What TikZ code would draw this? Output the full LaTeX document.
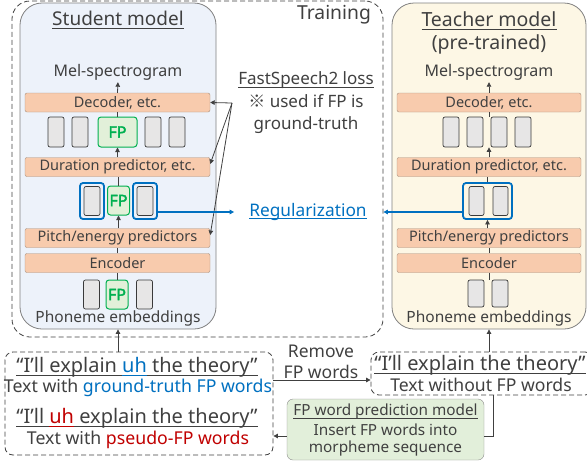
\documentclass[tikz,border=0pt]{standalone}
\usepackage{fontspec}
\setmainfont{Noto Sans}
\newfontfamily\cjk{Noto Sans CJK JP}
\newfontfamily\fpfont{Noto Sans}[FakeBold=2.5]
\usetikzlibrary{arrows.meta}
\definecolor{txt}{HTML}{404040}
\definecolor{salmon}{HTML}{F8CBAD}
\definecolor{salmonline}{HTML}{A8907E}
\definecolor{tokfill}{HTML}{E7E6E6}
\definecolor{tokline}{HTML}{3A3A3A}
\definecolor{fpgreen}{HTML}{00B050}
\definecolor{fpfill}{HTML}{E2F0D9}
\definecolor{regblue}{HTML}{0070C0}
\definecolor{fpred}{HTML}{C00000}
\definecolor{stfill}{HTML}{EDF2FA}
\definecolor{tefill}{HTML}{FDF7E5}
\definecolor{pmfill}{HTML}{E2EFDA}
\newcommand{\fs}[1]{\fontsize{#1}{#1}\selectfont}
\newcommand{\ulx}[1]{\setbox0\hbox{#1}\rlap{\rule[-0.17em]{\wd0}{0.055em}}\box0}

\tikzset{
  modbox/.style={draw=black!50, line width=0.8pt, rounded corners=22pt, inner sep=0pt},
  layer/.style={draw=salmonline, fill=salmon, rounded corners=2pt, minimum width=185pt, minimum height=19pt, inner sep=0pt, text=txt, font=\fs{14.5}},
  tok/.style={draw=tokline, fill=tokfill, rounded corners=2pt, line width=0.7pt, minimum width=16pt, minimum height=30pt, inner sep=0pt},
  fptok/.style={draw=fpgreen, fill=fpfill, rounded corners=3pt, line width=1pt, minimum width=22pt, minimum height=30pt, inner sep=0pt, text=fpgreen, font=\fpfont\fs{16}},
  regbox/.style={draw=regblue, rounded corners=3pt, line width=1.8pt, minimum height=36pt, inner sep=0pt},
  lbl/.style={text=txt, font=\fs{15}, inner sep=0pt},
  arr/.style={-{Triangle[length=4.5pt,width=4.5pt]}, draw=txt, line width=0.8pt},
  link/.style={draw=txt, line width=0.8pt},
  dashbox/.style={draw=txt, dash pattern=on 5pt off 3pt, line width=0.8pt, rounded corners=8pt, inner sep=0pt}
}

\begin{document}
\begin{tikzpicture}[x=1pt, y=-1pt]
\useasboundingbox (0,0) rectangle (587,464);

%%%%% TRAINING %%%%%
\node[dashbox, rounded corners=18pt, minimum width=371pt, minimum height=336pt] (train) at (197.5,169) {};
\node[lbl, font=\fs{19.3}] (trainlbl) at (334,15) {Training};

%%%%% STUDENT %%%%%
\node[modbox, fill=stfill, minimum width=196pt, minimum height=326pt] (student) at (118,166) {};
\node[lbl, font=\fs{19}] (stitle) at (118,20) {\ulx{Student model}};
\node[lbl, font=\fs{16}] (smel) at (118,72) {Mel-spectrogram};
\node[layer] (sdec) at (117.5,102.5) {Decoder, etc.};
\node[tok] (sa1) at (56,132) {};
\node[tok] (sa2) at (80,132) {};
\node[fptok, minimum width=39pt] (sa3) at (117.5,132) {FP};
\node[tok] (sa4) at (153,132) {};
\node[tok] (sa5) at (177,132) {};
\node[layer] (sdur) at (117.5,167) {Duration predictor, etc.};
\node[regbox, minimum width=24pt] (sb1) at (92,201) {};
\node[tok, minimum height=29pt] (sb1in) at (sb1) {};
\node[fptok, minimum height=29pt] (sb2) at (118.5,200.5) {FP};
\node[regbox, minimum width=24pt] (sb3) at (145,201) {};
\node[tok, minimum height=29pt] (sb3in) at (sb3) {};
\node[layer] (spitch) at (117.5,238) {Pitch/energy predictors};
\node[layer] (senc) at (117.5,263) {Encoder};
\node[tok, minimum height=29pt] (sc1) at (91.5,294.5) {};
\node[fptok, minimum height=29pt] (sc2) at (117,294.5) {FP};
\node[tok, minimum height=29pt] (sc3) at (144.5,294.5) {};
\node[lbl, font=\fs{15.5}] (sphon) at (118,318) {Phoneme embeddings};

\draw[arr, shorten >=2pt] (sdec.north) -- (smel.south);
\draw[link] (sa3.north) -- (sdec.south);
\draw[arr] (sdur.north) -- (sa3.south);
\draw[link] (sb2.north) -- (sb2.north |- sdur.south);
\draw[arr] (spitch.north -| sb2.south) -- (sb2.south);
\draw[link] (senc.north) -- (spitch.south);
\draw[link] (sc2.north) -- (sc2.north |- senc.south);

%%%%% TEACHER %%%%%
\node[modbox, fill=tefill, minimum width=194pt, minimum height=326pt] (teacher) at (489,166) {};
\node[lbl, font=\fs{19.5}] (ttitle) at (489,21) {\ulx{Teacher model}};
\node[lbl, font=\fs{19.5}] (tpre) at (489,44) {(pre-trained)};
\node[lbl, font=\fs{16}] (tmel) at (489,72) {Mel-spectrogram};
\node[layer, minimum width=184pt] (tdec) at (489,102.5) {Decoder, etc.};
\node[tok] (ta1) at (451,132) {};
\node[tok] (ta2) at (475,132) {};
\node[tok] (ta3) at (499,132) {};
\node[tok] (ta4) at (523,132) {};
\node[layer, minimum width=184pt] (tdur) at (489,167) {Duration predictor, etc.};
\node[regbox, minimum width=49pt] (tb) at (487.5,201) {};
\node[tok, minimum height=29pt, minimum width=15pt] (tb1) at (476.5,201) {};
\node[tok, minimum height=29pt, minimum width=15pt] (tb2) at (500.5,201) {};
\node[layer, minimum width=184pt] (tpitch) at (489,238) {Pitch/energy predictors};
\node[layer, minimum width=184pt] (tenc) at (489,263) {Encoder};
\node[tok, minimum height=27pt] (tc1) at (476,293.5) {};
\node[tok, minimum height=27pt] (tc2) at (500,293.5) {};
\node[lbl, font=\fs{15.5}] (tphon) at (489,318) {Phoneme embeddings};

\draw[arr, shorten >=2pt] (tdec.north) -- (tmel.south);
\draw[link] (tdec.south) -- (tdec.south |- ta2.north);
\draw[arr] (tdur.north) -- (tdur.north |- ta2.south);
\draw[link] (tb.north) -- (tb.north |- tdur.south);
\draw[arr] (tpitch.north -| tb.south) -- (tb.south);
\draw[link] (tenc.north) -- (tpitch.south);
\draw[link] (tenc.south) -- (tenc.south |- tc1.north);

%%%%% LOSSES %%%%%
\node[lbl, align=center, font=\fontsize{17}{22.5}\selectfont] (loss) at (306,103) {\ulx{FastSpeech2 loss}\\{\cjk ※} used if FP is\\ground-truth};
\coordinate (fork) at (232,103);
\draw[arr] (fork) -- (sdec.east);
\draw[arr] (fork) -- ([yshift=3pt]sdur.east);
\draw[arr] (fork) -- ([yshift=3pt]spitch.east);

\node[lbl, text=regblue, font=\fs{17.3}] (reg) at (308,212) {\ulx{Regularization}};
\draw[arr, draw=regblue, line width=1.2pt, shorten >=15pt] (sb3.east |- reg) -- (reg.west);
\draw[arr, draw=regblue, line width=1.2pt] (tb.west |- reg) -- (train.east |- reg);

%%%%% TEXTS %%%%%
\node[dashbox, minimum width=268pt, minimum height=103pt] (gtbox) at (139,403.5) {};
\node[lbl, font=\fs{20}] (q1) at (137,367) {\ulx{“I’ll explain }\textcolor{regblue}{\ulx{uh}}\ulx{ the theory”}};
\node[lbl, font=\fs{17.7}] (d1) at (138,388) {Text with \textcolor{regblue}{ground-truth FP words}};
\node[lbl, font=\fs{20}] (q2) at (137,418) {\ulx{“I’ll }\textcolor{fpred}{\ulx{uh}}\ulx{ explain the theory”}};
\node[lbl, font=\fs{17.7}] (d2) at (138,440) {Text with \textcolor{fpred}{pseudo-FP words}};

\node[dashbox, minimum width=222pt, minimum height=43pt] (nfbox) at (482,373.5) {};
\node[lbl, font=\fs{20}] (q3) at (480,365) {\ulx{“I’ll explain the theory”}};
\node[lbl, font=\fs{17.6}] (d3) at (481,385) {Text without FP words};

\node[lbl, align=center, font=\fontsize{17.5}{21}\selectfont] (rm) at (321,362) {Remove\\FP words};
\coordinate (rmy) at (0,380);
\draw[arr] (gtbox.east |- rmy) -- (nfbox.west |- rmy);

\node[draw=black!45, fill=pmfill, rounded corners=6pt, minimum width=197pt, minimum height=61pt, inner sep=0pt] (fpm) at (385.5,429.5) {};
\node[lbl, font=\fs{15.3}] (fpm1) at (385.5,412) {\ulx{FP word prediction model}};
\node[lbl, font=\fs{15.3}] (fpm2) at (385.5,430) {Insert FP words into};
\node[lbl, font=\fs{15.3}] (fpm3) at (385.5,449) {morpheme sequence};
\coordinate (fpy) at (0,436);
\draw[link] ([xshift=11pt]nfbox.south) |- (fpm.east |- fpy);
\draw[arr] (fpm.west |- fpy) -- (gtbox.east |- fpy);

\draw[arr] (gtbox.north -| student.south) -- (student.south);
\draw[arr] (nfbox.north -| teacher.south) -- (teacher.south);
\end{tikzpicture}
\end{document}
